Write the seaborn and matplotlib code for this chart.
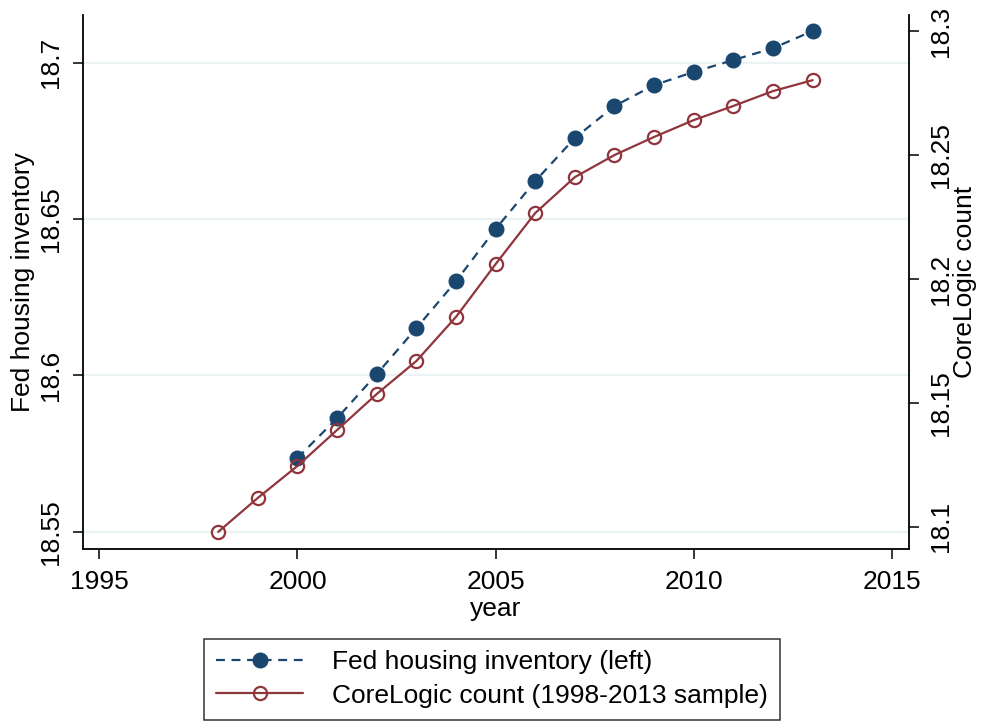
import matplotlib
matplotlib.use("Agg")
import matplotlib.pyplot as plt
import seaborn as sns
import pandas as pd

# values (log scale levels)
fed_years = [2000, 2001, 2002, 2003, 2004, 2005, 2006, 2007, 2008, 2009, 2010, 2011, 2012, 2013]
fed_values = [18.5736, 18.5863, 18.6004, 18.6151, 18.6301, 18.6468, 18.6621,
              18.6759, 18.6861, 18.6928, 18.6970, 18.7008, 18.7046, 18.7101]

core_years = [1998, 1999, 2000, 2001, 2002, 2003, 2004, 2005, 2006, 2007, 2008, 2009, 2010, 2011, 2012, 2013]
core_values = [18.0980, 18.1117, 18.1246, 18.1391, 18.1536, 18.1669, 18.1847, 18.2060,
               18.2266, 18.2411, 18.2500, 18.2573, 18.2641, 18.2698, 18.2758, 18.2802]

x_ticks = [1995, 2000, 2005, 2010, 2015]
left_ticks = [18.55, 18.6, 18.65, 18.7]
left_labels = ['18.55', '18.6', '18.65', '18.7']
right_ticks = [18.1, 18.15, 18.2, 18.25, 18.3]
right_labels = ['18.1', '18.15', '18.2', '18.25', '18.3']

fed = pd.DataFrame({'year': fed_years, 'value': fed_values})
core = pd.DataFrame({'year': core_years, 'value': core_values})

NAVY = '#1a476f'
MAROON = '#90353b'
GRID = '#eaf2f3'
FS = 19

sns.set_style('white')
plt.rcParams['font.family'] = ['Liberation Sans', 'DejaVu Sans']
plt.rcParams['text.color'] = 'black'
plt.rcParams['axes.labelcolor'] = 'black'
plt.rcParams['xtick.color'] = 'black'
plt.rcParams['ytick.color'] = 'black'

fig = plt.figure(figsize=(9.84, 7.25), dpi=100)
ax = fig.add_axes([0.0843, 0.2428, 0.8394, 0.7369])
ax2 = ax.twinx()

sns.lineplot(data=fed, x='year', y='value', ax=ax, color=NAVY, linewidth=1.6,
             linestyle=(0, (4, 3)), marker='o', markersize=10.5,
             markeredgecolor=NAVY, markerfacecolor=NAVY, markeredgewidth=1,
             label='Fed housing inventory (left)', legend=False)
sns.lineplot(data=core, x='year', y='value', ax=ax2, color=MAROON, linewidth=1.6,
             marker='o', markersize=9.5, markeredgecolor=MAROON,
             markerfacecolor='none', markeredgewidth=1.6,
             label='CoreLogic count (1998-2013 sample)', legend=False)

ax.set_xlim(1994.586, 2015.43)
ax.set_ylim(18.5445, 18.7153)
ax2.set_ylim(18.0911, 18.3066)

ax.set_xticks(x_ticks)
ax.set_yticks(left_ticks)
ax.set_yticklabels(left_labels, rotation=90, va='center')
ax2.set_yticks(right_ticks)
ax2.set_yticklabels(right_labels, rotation=90, va='center')

ax.grid(False)
ax2.grid(False)
for t in left_ticks:
    ax.axhline(t, color=GRID, linewidth=1.6, zorder=0)

for a in (ax, ax2):
    a.spines['top'].set_visible(False)
    for s in ('left', 'right', 'bottom'):
        a.spines[s].set_color('black')
        a.spines[s].set_linewidth(1.3)
ax.spines['right'].set_visible(False)
ax2.spines['left'].set_visible(False)
ax2.spines['bottom'].set_visible(False)

ax.tick_params(axis='both', direction='out', length=7.5, width=1.1, color='black',
               labelcolor='black', labelsize=FS, pad=7, left=True, bottom=True)
ax.tick_params(axis='x', pad=8)
ax2.tick_params(axis='y', direction='out', length=7.5, width=1.1, color='black',
                labelcolor='black', labelsize=FS, pad=7, right=True)

ax.set_xlabel('year', fontsize=FS, labelpad=2, color='black')
ax.set_ylabel('Fed housing inventory', fontsize=FS, color='black')
ax.yaxis.set_label_coords(-0.058, 0.5)
ax2.set_ylabel('CoreLogic count', fontsize=FS, rotation=90, color='black')
ax2.yaxis.set_label_coords(1.053, 0.5)

h1, l1 = ax.get_legend_handles_labels()
h2, l2 = ax2.get_legend_handles_labels()
leg = fig.legend(h1 + h2, l1 + l2, loc='center', bbox_to_anchor=(0.5, 0.0634),
                 fontsize=FS, frameon=True, fancybox=False, edgecolor='black',
                 handlelength=3.3, handletextpad=1.1, labelspacing=0.35,
                 borderpad=0.45, numpoints=1, labelcolor='black')
leg.get_frame().set_linewidth(1.1)

fig.savefig('out.png', dpi=100, facecolor='white')
